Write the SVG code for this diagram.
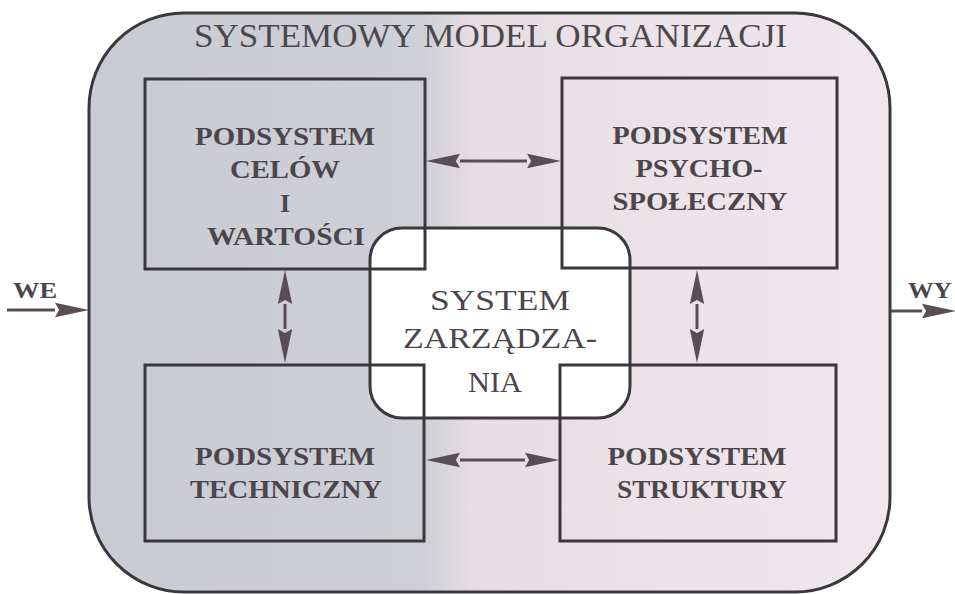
<svg xmlns="http://www.w3.org/2000/svg" width="955" height="594" viewBox="0 0 955 594">
<style>
  .frame { stroke: #3a383c; stroke-width: 3; }
  .box { fill: none; stroke: #3a383c; stroke-width: 3; }
  .lbl { font-family: "Liberation Serif", "Times New Roman", serif; font-weight: bold; font-size: 26px; fill: #4a464b; text-anchor: middle; }
  .reg { font-family: "Liberation Serif", "Times New Roman", serif; font-size: 30px; fill: #4a464b; text-anchor: middle; }
  .title { font-family: "Liberation Serif", "Times New Roman", serif; font-size: 33px; fill: #4a484d; }
  .io { font-family: "Liberation Serif", "Times New Roman", serif; font-weight: bold; font-size: 24px; fill: #4a464b; }
  .arr { stroke: #5a4e55; stroke-width: 3; fill: none; marker-start: url(#head); marker-end: url(#head); }
  .arr1 { stroke: #5a4e55; stroke-width: 3; fill: none; marker-end: url(#head); }
</style>
<defs>
  <linearGradient id="bg" gradientUnits="userSpaceOnUse" x1="89" y1="0" x2="890" y2="0">
    <stop offset="0" stop-color="#c9cbd2"/>
    <stop offset="0.42" stop-color="#cfd0d6"/>
    <stop offset="0.48" stop-color="#e6dee3"/>
    <stop offset="1" stop-color="#f0e8ec"/>
  </linearGradient>
  <marker id="head" markerUnits="userSpaceOnUse" markerWidth="34" markerHeight="16" viewBox="0 0 33 14" refX="0" refY="7" orient="auto-start-reverse">
    <path d="M0,0 L33,7 L0,14 L4,7 z" fill="#5a4e55"/>
  </marker>
</defs>
<rect width="955" height="594" fill="#ffffff"/>

<g id="frame">
  <rect class="frame" x="89" y="13" width="801" height="579" rx="95" ry="95" fill="url(#bg)"/>
  <text class="title" x="194" y="47" textLength="593" lengthAdjust="spacingAndGlyphs">SYSTEMOWY MODEL ORGANIZACJI</text>
</g>

<g id="system-zarzadzania">
  <rect x="370" y="228" width="260" height="190" rx="32" ry="32" fill="#ffffff" stroke="#3a383c" stroke-width="3"/>
  <text class="reg" x="500" y="310" textLength="140" lengthAdjust="spacingAndGlyphs">SYSTEM</text>
  <text class="reg" x="500" y="348" textLength="194" lengthAdjust="spacingAndGlyphs">ZARZĄDZA-</text>
  <text class="reg" x="495" y="392" textLength="54" lengthAdjust="spacingAndGlyphs">NIA</text>
</g>

<g id="podsystem-celow">
  <rect class="box" x="145" y="79" width="280" height="190"/>
  <text class="lbl" x="285" y="145" textLength="180" lengthAdjust="spacingAndGlyphs">PODSYSTEM</text>
  <text class="lbl" x="285" y="178" textLength="110" lengthAdjust="spacingAndGlyphs">CELÓW</text>
  <text class="lbl" x="285" y="212">I</text>
  <text class="lbl" x="286" y="245" textLength="158" lengthAdjust="spacingAndGlyphs">WARTOŚCI</text>
</g>

<g id="podsystem-psychospoleczny">
  <rect class="box" x="562" y="78" width="275" height="190"/>
  <text class="lbl" x="700" y="144" textLength="175" lengthAdjust="spacingAndGlyphs">PODSYSTEM</text>
  <text class="lbl" x="699" y="177" textLength="127" lengthAdjust="spacingAndGlyphs">PSYCHO-</text>
  <text class="lbl" x="700" y="210" textLength="175" lengthAdjust="spacingAndGlyphs">SPOŁECZNY</text>
</g>

<g id="podsystem-techniczny">
  <rect class="box" x="145" y="365" width="279" height="176"/>
  <text class="lbl" x="285" y="465" textLength="180" lengthAdjust="spacingAndGlyphs">PODSYSTEM</text>
  <text class="lbl" x="286" y="498" textLength="192" lengthAdjust="spacingAndGlyphs">TECHNICZNY</text>
</g>

<g id="podsystem-struktury">
  <rect class="box" x="560" y="365" width="276" height="176"/>
  <text class="lbl" x="697" y="465" textLength="179" lengthAdjust="spacingAndGlyphs">PODSYSTEM</text>
  <text class="lbl" x="702" y="498" textLength="170" lengthAdjust="spacingAndGlyphs">STRUKTURY</text>
</g>

<g id="io-labels">
  <text class="io" x="13" y="298" textLength="44" lengthAdjust="spacingAndGlyphs">WE</text>
  <text class="io" x="908" y="298" textLength="44" lengthAdjust="spacingAndGlyphs">WY</text>
</g>

<g id="connectors">
  <line class="arr" x1="460" y1="161" x2="527" y2="161"/>
  <line class="arr" x1="460" y1="460" x2="525" y2="460"/>
  <line class="arr" x1="285" y1="304" x2="285" y2="329"/>
  <line class="arr" x1="697" y1="304" x2="697" y2="329"/>
  <line class="arr1" x1="7" y1="310" x2="55" y2="310"/>
  <line class="arr1" x1="891" y1="311" x2="922" y2="311"/>
</g>
</svg>
